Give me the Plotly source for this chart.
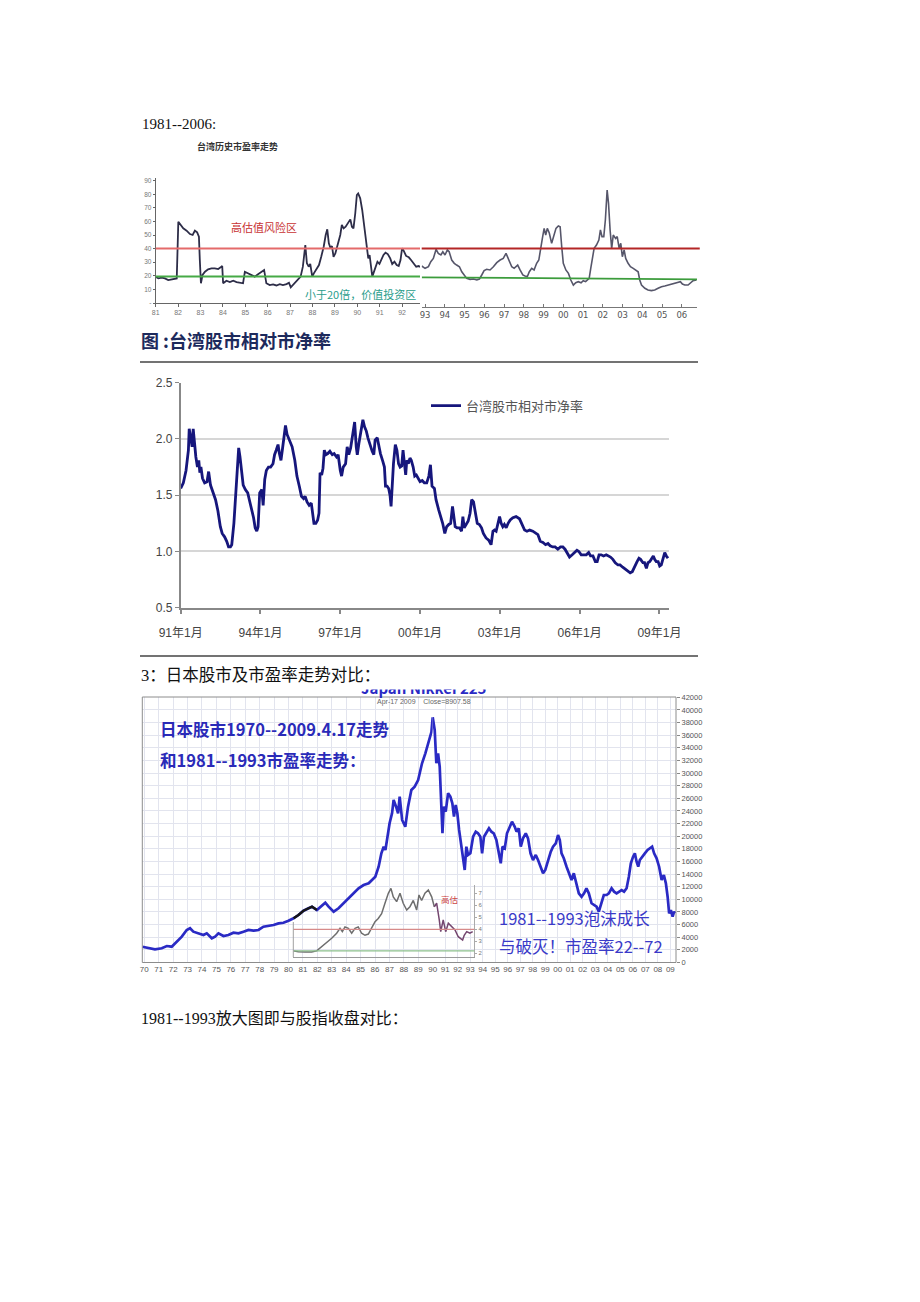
import plotly.graph_objects as go

W, H = 920, 1302


def fx(px):
    return px / W


def fy(py):
    return 1 - py / H


CJK = "Noto Sans CJK SC"
SANS = "Liberation Sans, Noto Sans CJK SC"
SERIF = "Liberation Serif, Noto Sans CJK SC"

# ---------------- Chart 1: Taiwan P/E 1981-2006 ----------------
tw_pe_early_year = [1980.97, 1981.12, 1981.27, 1981.41, 1981.56, 1981.71, 1981.86, 1981.94,
                    1982.01, 1982.11, 1982.23, 1982.38, 1982.53, 1982.65, 1982.75, 1982.85,
                    1982.93, 1982.97, 1983.02, 1983.09, 1983.20, 1983.34, 1983.49, 1983.64,
                    1983.79, 1983.90, 1983.97, 1984.01, 1984.16, 1984.31, 1984.46, 1984.61,
                    1984.76, 1984.90, 1984.98, 1985.12, 1985.28, 1985.42, 1985.57, 1985.72,
                    1985.84, 1985.94, 1986.09, 1986.24, 1986.39, 1986.54, 1986.68, 1986.84,
                    1986.95, 1987.03, 1987.13, 1987.28, 1987.40, 1987.47, 1987.57, 1987.68,
                    1987.75, 1987.83, 1987.90, 1987.99, 1988.06, 1988.17, 1988.29, 1988.39,
                    1988.50, 1988.59, 1988.66, 1988.73, 1988.81, 1988.87, 1988.94, 1989.02,
                    1989.09, 1989.16, 1989.24, 1989.31, 1989.39, 1989.48, 1989.58, 1989.69,
                    1989.76, 1989.83, 1989.91, 1989.98, 1990.04, 1990.13, 1990.22, 1990.29,
                    1990.37, 1990.44, 1990.49, 1990.55, 1990.60, 1990.67, 1990.72, 1990.81,
                    1990.90, 1990.99, 1991.08, 1991.17, 1991.26, 1991.36, 1991.47, 1991.56,
                    1991.66, 1991.76, 1991.85, 1991.93, 1992.00, 1992.07, 1992.18, 1992.30,
                    1992.40, 1992.52, 1992.63, 1992.74, 1992.80]
tw_pe_early = [19.4, 18.1, 18.6, 18.1, 16.9, 17.4, 17.6, 18.1,
               59.8, 57.4, 54.9, 53.2, 50.7, 50.0, 53.2, 52.0,
               48.8, 31.6, 14.5, 20.6, 23.0, 24.8, 25.5, 25.5,
               25.0, 26.2, 27.2, 14.5, 16.4, 15.4, 16.4, 15.4,
               14.9, 14.5, 23.0, 21.8, 20.6, 19.4, 21.1, 23.0,
               24.3, 14.5, 13.2, 13.7, 12.9, 13.9, 13.2, 13.9,
               14.9, 11.5, 13.2, 15.7, 18.1, 19.4, 26.7, 42.6,
               29.2, 26.7, 28.7, 19.4, 21.8, 24.3, 27.9, 34.0,
               41.4, 50.0, 54.2, 43.9, 40.2, 41.9, 34.0, 36.5,
               41.4, 43.9, 50.0, 57.4, 54.9, 56.1, 58.6, 61.5,
               56.1, 54.9, 66.0, 79.4, 80.6, 77.0, 68.4, 58.6,
               48.8, 36.5, 32.8, 35.3, 26.7, 19.4, 21.8, 26.7,
               30.4, 28.7, 32.8, 35.3, 37.0, 36.0, 32.8, 28.7,
               30.4, 27.9, 27.2, 31.6, 40.2, 38.5, 34.6, 33.6,
               31.6, 28.7, 26.7, 27.2, 26.5]

tw_pe_late_year = [1992.83, 1993.00, 1993.17, 1993.29, 1993.42, 1993.56, 1993.67, 1993.80,
                   1993.90, 1994.01, 1994.13, 1994.22, 1994.35, 1994.48, 1994.60, 1994.74,
                   1994.86, 1994.97, 1995.11, 1995.28, 1995.45, 1995.62, 1995.75, 1995.87,
                   1995.99, 1996.12, 1996.29, 1996.46, 1996.63, 1996.80, 1996.96, 1997.10,
                   1997.17, 1997.25, 1997.39, 1997.51, 1997.61, 1997.69, 1997.81, 1997.95,
                   1998.06, 1998.18, 1998.28, 1998.40, 1998.52, 1998.65, 1998.76, 1998.86,
                   1998.94, 1999.03, 1999.11, 1999.19, 1999.29, 1999.41, 1999.53, 1999.63,
                   1999.75, 1999.84, 1999.92, 2000.00, 2000.13, 2000.26, 2000.38, 2000.51,
                   2000.63, 2000.76, 2000.90, 2001.01, 2001.13, 2001.23, 2001.31, 2001.39,
                   2001.48, 2001.56, 2001.68, 2001.80, 2001.88, 2001.96, 2002.05, 2002.13,
                   2002.22, 2002.29, 2002.37, 2002.45, 2002.53, 2002.65, 2002.73, 2002.83,
                   2002.91, 2002.99, 2003.08, 2003.16, 2003.28, 2003.40, 2003.54, 2003.67,
                   2003.79, 2003.87, 2003.96, 2004.13, 2004.29, 2004.46, 2004.63, 2004.80,
                   2004.97, 2005.14, 2005.30, 2005.47, 2005.65, 2005.81, 2005.93, 2006.03,
                   2006.15, 2006.32, 2006.44, 2006.57, 2006.74]
tw_pe_late = [27.2, 25.5, 26.7, 30.4, 32.8, 39.5, 36.5, 35.3,
              37.7, 35.3, 39.0, 37.7, 31.6, 29.2, 27.9, 26.7,
              23.0, 20.6, 18.1, 17.4, 17.6, 16.9, 17.6, 20.6,
              23.8, 24.8, 24.3, 26.7, 29.7, 31.6, 32.8, 36.5,
              34.0, 31.6, 26.7, 25.5, 27.2, 27.9, 24.3, 20.6,
              19.9, 19.4, 23.0, 25.5, 24.3, 29.2, 31.6, 39.0,
              47.5, 54.9, 50.0, 54.9, 51.5, 43.9, 50.0, 54.9,
              56.6, 56.1, 41.4, 29.2, 24.3, 21.8, 16.9, 13.2,
              14.9, 15.7, 14.9, 16.4, 15.7, 16.9, 18.1, 25.5,
              34.0, 40.2, 42.6, 46.3, 53.7, 48.8, 48.8, 61.0,
              83.0, 73.3, 53.7, 40.2, 50.0, 47.5, 48.8, 40.2,
              43.9, 34.0, 39.0, 32.8, 29.2, 26.7, 25.5, 24.3,
              23.0, 16.9, 13.2, 10.8, 9.6, 9.1, 9.6, 10.8,
              12.0, 12.5, 13.2, 13.9, 14.5, 14.9, 15.7, 13.9,
              13.2, 13.2, 14.5, 16.4, 16.9]
pe_year_ticks_early = list(range(1981, 1993))
pe_year_ticks_late = list(range(1993, 2007))
pe_risk_level = 40
pe_value_level_early = 19.5
pe_value_level_late = [18.9, 17.4]

# ---------------- Chart 2: Taiwan relative P/B ----------------
tw_pb_year = [1991.00, 1991.10, 1991.20, 1991.29, 1991.32, 1991.38, 1991.43, 1991.47, 1991.51,
              1991.57, 1991.63, 1991.68, 1991.72, 1991.76, 1991.82, 1991.90, 1991.99, 1992.05,
              1992.12, 1992.21, 1992.31, 1992.40, 1992.49, 1992.56, 1992.65, 1992.73, 1992.80,
              1992.87, 1992.92, 1993.00, 1993.06, 1993.12, 1993.18, 1993.23, 1993.29, 1993.35,
              1993.43, 1993.52, 1993.60, 1993.68, 1993.74, 1993.80, 1993.86, 1993.91, 1993.97,
              1994.05, 1994.10, 1994.16, 1994.22, 1994.30, 1994.38, 1994.47, 1994.53, 1994.59,
              1994.66, 1994.71, 1994.77, 1994.82, 1994.88, 1994.94, 1995.00, 1995.09, 1995.19,
              1995.29, 1995.37, 1995.46, 1995.54, 1995.62, 1995.68, 1995.75, 1995.83, 1995.91,
              1995.96, 1996.01, 1996.08, 1996.15, 1996.20, 1996.24, 1996.30, 1996.35, 1996.40,
              1996.46, 1996.53, 1996.61, 1996.70, 1996.77, 1996.86, 1996.92, 1997.00, 1997.05,
              1997.11, 1997.20, 1997.26, 1997.32, 1997.39, 1997.48, 1997.54, 1997.60, 1997.64,
              1997.70, 1997.79, 1997.85, 1997.91, 1997.98, 1998.04, 1998.13, 1998.20, 1998.26,
              1998.31, 1998.39, 1998.43, 1998.51, 1998.60, 1998.66, 1998.70, 1998.76, 1998.82,
              1998.87, 1998.91, 1998.96, 1999.00, 1999.07, 1999.13, 1999.19, 1999.25, 1999.31,
              1999.36, 1999.40, 1999.46, 1999.50, 1999.56, 1999.62, 1999.67, 1999.74, 1999.80,
              1999.86, 1999.92, 2000.00, 2000.08, 2000.16, 2000.25, 2000.33, 2000.39, 2000.45,
              2000.54, 2000.60, 2000.70, 2000.79, 2000.85, 2000.93, 2001.00, 2001.08, 2001.15,
              2001.22, 2001.27, 2001.32, 2001.39, 2001.48, 2001.56, 2001.61, 2001.66, 2001.73,
              2001.81, 2001.88, 2001.94, 2002.01, 2002.07, 2002.15, 2002.23, 2002.31, 2002.38,
              2002.48, 2002.58, 2002.67, 2002.74, 2002.80, 2002.86, 2002.92, 2002.99, 2003.05,
              2003.11, 2003.17, 2003.24, 2003.31, 2003.39, 2003.49, 2003.61, 2003.74, 2003.83,
              2003.93, 2004.02, 2004.12, 2004.24, 2004.34, 2004.43, 2004.52, 2004.62, 2004.72,
              2004.81, 2004.89, 2004.99, 2005.08, 2005.18, 2005.28, 2005.37, 2005.45, 2005.52,
              2005.62, 2005.72, 2005.81, 2005.90, 2005.97, 2006.06, 2006.15, 2006.25, 2006.34,
              2006.41, 2006.50, 2006.59, 2006.66, 2006.73, 2006.81, 2006.90, 2007.00, 2007.09,
              2007.16, 2007.25, 2007.34, 2007.44, 2007.52, 2007.62, 2007.73, 2007.82, 2007.90,
              2007.98, 2008.07, 2008.16, 2008.23, 2008.29, 2008.38, 2008.44, 2008.51, 2008.57,
              2008.64, 2008.70, 2008.77, 2008.82, 2008.88, 2008.95, 2009.01, 2009.07, 2009.13,
              2009.20, 2009.26, 2009.32]
tw_pb = [1.56, 1.61, 1.72, 1.90, 2.09, 1.99, 1.93, 2.09, 1.96,
         1.84, 1.75, 1.81, 1.70, 1.75, 1.65, 1.61, 1.62, 1.71,
         1.59, 1.53, 1.46, 1.36, 1.22, 1.16, 1.13, 1.09, 1.04,
         1.04, 1.06, 1.25, 1.46, 1.70, 1.92, 1.84, 1.70, 1.59,
         1.55, 1.52, 1.44, 1.37, 1.30, 1.21, 1.18, 1.22, 1.52,
         1.55, 1.41, 1.64, 1.72, 1.75, 1.75, 1.78, 1.86, 1.90,
         1.95, 1.87, 1.81, 1.90, 1.99, 2.12, 2.04, 1.98, 1.93,
         1.81, 1.67, 1.58, 1.49, 1.47, 1.49, 1.44, 1.41, 1.43,
         1.34, 1.25, 1.25, 1.28, 1.34, 1.70, 1.68, 1.74, 1.90,
         1.86, 1.87, 1.89, 1.86, 1.87, 1.84, 1.86, 1.72, 1.67,
         1.75, 1.78, 1.93, 1.86, 1.92, 2.05, 2.15, 1.93, 1.86,
         1.96, 2.07, 2.17, 2.11, 2.07, 2.01, 1.93, 1.89, 1.86,
         1.99, 2.01, 1.96, 1.87, 1.80, 1.75, 1.58, 1.58, 1.56,
         1.50, 1.40, 1.67, 1.78, 1.95, 1.90, 1.78, 1.75, 1.76,
         1.90, 1.81, 1.68, 1.81, 1.78, 1.83, 1.81, 1.75, 1.67,
         1.68, 1.65, 1.62, 1.63, 1.61, 1.61, 1.67, 1.77, 1.58,
         1.56, 1.46, 1.37, 1.31, 1.25, 1.16, 1.22, 1.24, 1.25,
         1.40, 1.31, 1.22, 1.21, 1.21, 1.18, 1.31, 1.21, 1.24,
         1.27, 1.34, 1.46, 1.44, 1.37, 1.25, 1.24, 1.21, 1.16,
         1.12, 1.10, 1.06, 1.18, 1.19, 1.18, 1.24, 1.31, 1.25,
         1.22, 1.24, 1.21, 1.25, 1.28, 1.30, 1.31, 1.29, 1.24,
         1.19, 1.18, 1.19, 1.18, 1.16, 1.15, 1.09, 1.08, 1.06,
         1.07, 1.05, 1.04, 1.04, 1.02, 1.04, 1.04, 1.02, 0.99,
         0.95, 0.97, 0.99, 1.01, 1.00, 0.97, 0.97, 0.97, 0.99,
         0.96, 0.96, 0.91, 0.91, 0.97, 0.97, 0.96, 0.97, 0.96,
         0.95, 0.93, 0.90, 0.88, 0.88, 0.86, 0.84, 0.82, 0.81,
         0.82, 0.87, 0.91, 0.94, 0.93, 0.90, 0.90, 0.85, 0.90,
         0.91, 0.93, 0.96, 0.93, 0.91, 0.91, 0.87, 0.88, 0.94,
         0.99, 0.96, 0.94]
pb_tick_years = [1991, 1994, 1997, 2000, 2003, 2006, 2009]
pb_tick_labels = ["91年1月", "94年1月", "97年1月", "00年1月", "03年1月", "06年1月", "09年1月"]
pb_y_ticks = [0.5, 1.0, 1.5, 2.0, 2.5]
pb_series_name = "台湾股市相对市净率"

# ---------------- Chart 3: Nikkei 225 1970-2009 ----------------
nikkei_year = [1969.86, 1970.28, 1970.74, 1971.21, 1971.56, 1971.90, 1972.25, 1972.60, 1972.94,
               1973.17, 1973.40, 1973.75, 1974.10, 1974.33, 1974.68, 1974.91, 1975.14, 1975.49,
               1975.83, 1976.18, 1976.53, 1976.88, 1977.22, 1977.57, 1977.92, 1978.26, 1978.61,
               1978.96, 1979.31, 1979.65, 1980.00, 1980.35, 1980.69, 1981.04, 1981.39, 1981.63,
               1981.97, 1982.32, 1982.55, 1982.78, 1983.13, 1983.47, 1983.82, 1984.17, 1984.51,
               1984.86, 1985.21, 1985.56, 1985.79, 1986.02, 1986.25, 1986.44, 1986.60, 1986.72,
               1986.83, 1987.01, 1987.18, 1987.29, 1987.46, 1987.60, 1987.71, 1987.88, 1988.10,
               1988.29, 1988.52, 1988.75, 1988.99, 1989.26, 1989.49, 1989.72, 1989.91, 1990.00,
               1990.16, 1990.29, 1990.43, 1990.56, 1990.70, 1990.78, 1990.88, 1991.04, 1991.23,
               1991.41, 1991.57, 1991.70, 1991.84, 1991.97, 1992.11, 1992.29, 1992.43, 1992.56,
               1992.69, 1992.83, 1993.01, 1993.23, 1993.44, 1993.62, 1993.81, 1993.95, 1994.10,
               1994.29, 1994.50, 1994.69, 1994.88, 1995.09, 1995.28, 1995.44, 1995.58, 1995.76,
               1995.94, 1996.16, 1996.34, 1996.56, 1996.70, 1996.88, 1997.04, 1997.22, 1997.44,
               1997.62, 1997.82, 1998.02, 1998.24, 1998.42, 1998.62, 1998.82, 1999.00, 1999.22,
               1999.44, 1999.62, 1999.84, 2000.02, 2000.16, 2000.30, 2000.48, 2000.70, 2000.88,
               2001.10, 2001.28, 2001.50, 2001.68, 2001.90, 2002.10, 2002.29, 2002.48, 2002.70,
               2002.88, 2003.10, 2003.28, 2003.50, 2003.68, 2003.90, 2004.08, 2004.30, 2004.50,
               2004.70, 2004.90, 2005.10, 2005.30, 2005.50, 2005.68, 2005.84, 2006.02, 2006.16,
               2006.30, 2006.43, 2006.56, 2006.74, 2006.96, 2007.18, 2007.36, 2007.54, 2007.70,
               2007.90, 2008.10, 2008.30, 2008.48, 2008.64, 2008.78, 2008.90, 2009.04, 2009.18,
               2009.30, 2009.38]
nikkei_close = [2500, 2250, 2090, 2250, 2610, 2500, 3300, 4090, 5150,
                5420, 4880, 4620, 4350, 4620, 3830, 4090, 4620, 4200,
                4350, 4720, 4620, 4880, 5150, 5050, 5150, 5670, 5780,
                5940, 6200, 6300, 6620, 7000, 7520, 8200, 8580, 8840,
                8310, 9100, 9470, 8840, 8050, 8580, 9380, 10170, 10960,
                11750, 12270, 12540, 13070, 13590, 15170, 17290, 18340, 17820,
                19400, 22050, 23630, 25740, 24680, 23630, 26260, 22570, 21500,
                24680, 27320, 27840, 28900, 31550, 33130, 35240, 36500, 38840,
                36820, 31550, 33130, 31010, 24680, 20460, 24680, 23890, 26800,
                26260, 25210, 23100, 24950, 23630, 20990, 18340, 16230, 14650,
                18340, 17030, 17290, 19920, 20720, 20460, 19920, 17290, 19920,
                20460, 21250, 20720, 20460, 19400, 17290, 15710, 18340, 18080,
                20460, 21500, 22300, 21500, 20720, 21250, 18340, 19660, 20460,
                19660, 17290, 16230, 17030, 16230, 15170, 14130, 14650, 16230,
                17550, 18340, 18880, 20190, 19400, 17290, 16500, 15170, 14130,
                13070, 14130, 12540, 10960, 10420, 10960, 11750, 10960, 9380,
                9100, 8840, 8050, 9380, 10690, 10690, 10960, 11750, 11220,
                10960, 11220, 11480, 11220, 11750, 13590, 15710, 16760, 17290,
                15970, 15170, 16230, 16760, 17290, 17820, 18080, 18340, 17290,
                16500, 15170, 13070, 13860, 12540, 10420, 7790, 8310, 7250,
                8050, 7790]
nikkei_black_span = [1980.3, 1982.0]
nikkei_ticks_early = list(range(1970, 1990))
nikkei_ticks_late = list(range(1990, 2010))
nikkei_y_ticks = list(range(0, 42001, 2000))

# Japan P/E inset 1981-1993
jp_pe_year = [1981.00, 1981.34, 1981.80, 1982.26, 1982.60, 1982.94, 1983.29, 1983.63, 1983.97,
              1984.20, 1984.36, 1984.54, 1984.77, 1985.00, 1985.23, 1985.45, 1985.68, 1985.91,
              1986.14, 1986.41, 1986.60, 1986.82, 1987.05, 1987.28, 1987.51, 1987.69, 1987.85,
              1988.08, 1988.31, 1988.53, 1988.77, 1988.99, 1989.22, 1989.45, 1989.61, 1989.79,
              1990.02, 1990.25, 1990.48, 1990.66, 1990.82, 1991.00, 1991.10, 1991.27, 1991.44,
              1991.62, 1991.85, 1992.08, 1992.30, 1992.60, 1992.71, 1992.88, 1993.10, 1993.29]
jp_pe = [22.0, 21.3, 21.0, 21.0, 22.0, 25.5, 28.3, 32.5, 36.7,
         40.8, 38.0, 42.0, 40.8, 36.7, 40.8, 42.0, 36.7, 35.0,
         36.0, 42.0, 46.3, 49.0, 53.0, 61.7, 70.0, 74.0, 67.0,
         63.0, 70.0, 61.7, 56.0, 58.8, 64.0, 56.0, 68.6, 64.0,
         70.0, 72.7, 67.0, 58.8, 61.7, 47.8, 38.0, 47.8, 38.0,
         45.0, 42.0, 39.4, 33.8, 31.0, 35.0, 38.0, 36.7, 38.0]
jp_pe_tail_start = 1990.6
jp_pe_high = 40
jp_pe_low = 22
jp_pe_ticks = [20, 30, 40, 50, 60, 70]
jp_pe_ticktext = ["2", "3", "4", "5", "6", "7"]

# ---------------- build figure ----------------
fig = go.Figure()

fig.add_trace(go.Scatter(x=tw_pe_early_year, y=tw_pe_early, mode="lines", xaxis="x", yaxis="y",
                         line=dict(color="#2d2d48", width=1.8), showlegend=False))
fig.add_trace(go.Scatter(x=tw_pe_late_year, y=tw_pe_late, mode="lines", xaxis="x2", yaxis="y2",
                         line=dict(color="#56566a", width=1.6), showlegend=False))

fig.add_trace(go.Scatter(x=tw_pb_year, y=tw_pb, mode="lines", xaxis="x3", yaxis="y3",
                         name=pb_series_name, line=dict(color="#16167c", width=2.8),
                         showlegend=True))

jp_a = [(a, b) for a, b in zip(jp_pe_year, jp_pe) if a <= jp_pe_tail_start + 0.1]
jp_b = [(a, b) for a, b in zip(jp_pe_year, jp_pe) if a >= jp_pe_tail_start]
fig.add_trace(go.Scatter(x=[p[0] for p in jp_a], y=[p[1] for p in jp_a], mode="lines",
                         xaxis="x6", yaxis="y6", line=dict(color="#6e6e6e", width=1.5),
                         showlegend=False))
fig.add_trace(go.Scatter(x=[p[0] for p in jp_b], y=[p[1] for p in jp_b], mode="lines",
                         xaxis="x6", yaxis="y6", line=dict(color="#74466f", width=1.5),
                         showlegend=False))

nk_e = [(a, b) for a, b in zip(nikkei_year, nikkei_close) if a <= 1990.0]
nk_l = [(a, b) for a, b in zip(nikkei_year, nikkei_close) if a >= 1990.0]
nk_b = [(a, b) for a, b in zip(nikkei_year, nikkei_close)
        if nikkei_black_span[0] <= a <= nikkei_black_span[1]]
fig.add_trace(go.Scatter(x=[p[0] for p in nk_e], y=[p[1] for p in nk_e], mode="lines",
                         xaxis="x4", yaxis="y4", line=dict(color="#2a2ac4", width=2.7),
                         showlegend=False))
fig.add_trace(go.Scatter(x=[p[0] for p in nk_b], y=[p[1] for p in nk_b], mode="lines",
                         xaxis="x4", yaxis="y4", line=dict(color="#151515", width=2.4),
                         showlegend=False))
fig.add_trace(go.Scatter(x=[p[0] for p in nk_l], y=[p[1] for p in nk_l], mode="lines",
                         xaxis="x5", yaxis="y5", line=dict(color="#2a2ac4", width=2.7),
                         showlegend=False))

small_grey = dict(size=7, color="#777", family=SANS)
NOAM = dict(automargin=False)

layout = dict(
    template="none",
    width=W, height=H, autosize=False,
    margin=dict(l=0, r=0, t=0, b=0, pad=0, autoexpand=False),
    paper_bgcolor="white", plot_bgcolor="rgba(0,0,0,0)",
    showlegend=True,
    legend=dict(x=fx(426), y=fy(405.7), xanchor="left", yanchor="middle",
                bgcolor="rgba(0,0,0,0)", borderwidth=0,
                font=dict(size=13, color="#555", family=CJK)),
    # chart 1 left
    xaxis=dict(domain=[fx(155.7), fx(420)], range=[1981, 1992.8], anchor="y",
               tickvals=pe_year_ticks_early, ticktext=[str(v)[2:] for v in pe_year_ticks_early],
               showline=True, linecolor="#666", ticks="outside", ticklen=3, tickcolor="#666",
               tickfont=small_grey, showgrid=False, zeroline=False, **NOAM),
    yaxis=dict(domain=[fy(303), fy(177.9)], range=[0, 92], anchor="x",
               tickvals=list(range(0, 91, 10)), ticktext=["-"] + [str(v) for v in range(10, 91, 10)],
               showline=True, linecolor="#666", ticks="outside", ticklen=2, tickcolor="#666",
               tickfont=dict(size=6.5, color="#777", family=SANS), showgrid=False, zeroline=False,
               **NOAM),
    # chart 1 right
    xaxis2=dict(domain=[fx(421.7), fx(697)], range=[1992.83, 2006.77], anchor="y2",
                tickvals=pe_year_ticks_late, ticktext=[str(v)[2:] for v in pe_year_ticks_late],
                showline=True, linecolor="#777", ticks="inside", ticklen=3, tickcolor="#777",
                tickfont=dict(size=8.5, color="#555", family="DejaVu Sans"),
                showgrid=False, zeroline=False, **NOAM),
    yaxis2=dict(domain=[fy(307), fy(177.9)], range=[-2.94, 92], anchor="x2", visible=False, **NOAM),
    # chart 2
    xaxis3=dict(domain=[fx(180.7), fx(669)], range=[1991.0, 2009.36], anchor="y3",
                tickvals=pb_tick_years, ticktext=pb_tick_labels,
                showline=True, linecolor="#888", linewidth=1.5, ticks="outside", ticklen=5,
                tickcolor="#888", tickwidth=1.5, ticklabelstandoff=8,
                tickfont=dict(size=12, color="#444", family=SANS), showgrid=False, zeroline=False,
                **NOAM),
    yaxis3=dict(domain=[fy(607.7), fy(382.7)], range=[0.5, 2.5], anchor="x3",
                tickvals=pb_y_ticks, ticktext=["%.1f" % v for v in pb_y_ticks],
                showline=True, linecolor="#888", linewidth=1.5, ticks="outside", ticklen=4,
                tickcolor="#888", tickfont=dict(size=12, color="#444", family=SANS),
                showgrid=True, gridcolor="#d6d6d6", gridwidth=1.5, zeroline=False, **NOAM),
    # chart 3 early segment
    xaxis4=dict(domain=[fx(142.3), fx(432.7)], range=[1969.86, 1990.0], anchor="y4",
                tickvals=nikkei_ticks_early, ticktext=[str(v)[2:] for v in nikkei_ticks_early],
                ticks="", tickfont=dict(size=8, color="#555", family=SANS),
                showgrid=True, gridcolor="#e2e4ee", gridwidth=1, showline=False, zeroline=False,
                **NOAM),
    yaxis4=dict(domain=[fy(962.5), fy(697.3)], range=[0, 42000], anchor="x4",
                tickvals=nikkei_y_ticks, showticklabels=False, ticks="",
                showgrid=True, gridcolor="#e2e4ee", gridwidth=1, showline=False, zeroline=False,
                **NOAM),
    # chart 3 late segment
    xaxis5=dict(domain=[fx(432.7), fx(676)], range=[1990.0, 2009.45], anchor="y5",
                tickvals=nikkei_ticks_late, ticktext=[str(v)[2:] for v in nikkei_ticks_late],
                ticks="", tickfont=dict(size=8, color="#555", family=SANS),
                showgrid=True, gridcolor="#e2e4ee", gridwidth=1, showline=False, zeroline=False,
                **NOAM),
    yaxis5=dict(domain=[fy(962.5), fy(697.3)], range=[0, 42000], anchor="x5", side="right",
                tickvals=nikkei_y_ticks, ticktext=[str(v) for v in nikkei_y_ticks],
                ticks="outside", ticklen=3, tickcolor="#888",
                tickfont=dict(size=7.5, color="#555", family=SANS),
                showgrid=True, gridcolor="#e2e4ee", gridwidth=1, showline=False, zeroline=False,
                **NOAM),
    # inset
    xaxis6=dict(domain=[fx(293.3), fx(474.3)], range=[1981, 1993.4], anchor="y6",
                showline=True, linecolor="#9a9a9a", showticklabels=False, ticks="",
                showgrid=False, zeroline=False, **NOAM),
    yaxis6=dict(domain=[fy(957), fy(885)], range=[16.9, 76.9], anchor="x6", side="right",
                tickvals=jp_pe_ticks, ticktext=jp_pe_ticktext,
                showline=True, linecolor="#aaa", ticks="outside", ticklen=2, tickcolor="#aaa",
                tickfont=dict(size=6, color="#777", family=SANS), showgrid=False, zeroline=False,
                **NOAM),
)
fig.update_layout(**layout)

shapes = [
    # chart 1 reference lines
    dict(type="line", xref="x domain", yref="y", x0=0, x1=1, y0=pe_risk_level, y1=pe_risk_level,
         line=dict(color="#e46a6a", width=2)),
    dict(type="line", xref="x2 domain", yref="y2", x0=0, x1=1.01, y0=pe_risk_level, y1=pe_risk_level,
         line=dict(color="#b42626", width=2)),
    dict(type="line", xref="x domain", yref="y", x0=0, x1=1, y0=pe_value_level_early,
         y1=pe_value_level_early, line=dict(color="#46aa46", width=2)),
    dict(type="line", xref="x2", yref="y2", x0=1992.83, x1=2006.77, y0=pe_value_level_late[0],
         y1=pe_value_level_late[1], line=dict(color="#3c9c3c", width=1.8)),
    # chart 2 rules
    dict(type="line", xref="paper", yref="paper", x0=fx(140), x1=fx(698), y0=fy(362), y1=fy(362),
         line=dict(color="#444", width=1.3)),
    dict(type="line", xref="paper", yref="paper", x0=fx(140), x1=fx(698), y0=fy(656), y1=fy(656),
         line=dict(color="#444", width=1.3)),
    # chart 3 frame
    dict(type="rect", xref="paper", yref="paper", x0=fx(142.3), x1=fx(676), y0=fy(962.5), y1=fy(697),
         line=dict(color="#8c8c8c", width=1), fillcolor="rgba(0,0,0,0)"),
    # inset reference lines
    dict(type="line", xref="x6 domain", yref="y6", x0=0, x1=1, y0=jp_pe_high, y1=jp_pe_high,
         line=dict(color="#d68a8a", width=1.2)),
    dict(type="line", xref="x6 domain", yref="y6", x0=0, x1=1, y0=jp_pe_low, y1=jp_pe_low,
         line=dict(color="#8cc08c", width=1.2)),
    dict(type="line", xref="paper", yref="paper", x0=fx(293.3), x1=fx(293.3), y0=fy(957), y1=fy(922),
         line=dict(color="#a0a0a0", width=1)),
]
fig.update_layout(shapes=shapes)


def ann(text, x, y, size, color, family=CJK, xanchor="left", bold=False, **kw):
    t = "<b>%s</b>" % text if bold else text
    d = dict(text=t, x=fx(x), y=fy(y), xref="paper", yref="paper", xanchor=xanchor,
             yanchor="middle", showarrow=False, font=dict(size=size, color=color, family=family))
    d.update(kw)
    return d


annotations = [
    ann("1981--2006:", 140, 124, 15, "#111", family=SERIF),
    ann("台湾历史市盈率走势", 237, 146, 9, "#333", xanchor="center", bold=True),
    ann("高估值风险区", 263.5, 226.7, 11, "#c83232", xanchor="center"),
    ann("小于20倍，价值投资区", 360, 294, 11, "#2a9d8c", xanchor="center"),
    ann("图 :台湾股市相对市净率", 139, 340, 18, "#1d2a5c", bold=True),
    # Nikkei chart header (partially hidden title)
    ann("<b>Japan Nikkei 225</b>", 424, 687, 15, "#2a2ac4", xanchor="center"),
    dict(text=" ", x=fx(424), y=fy(679), xref="paper", yref="paper", xanchor="center",
         yanchor="middle", showarrow=False, width=150, height=20, bgcolor="white", borderpad=0),
    ann("Apr-17 2009    Close=8907.58", 424, 702, 7, "#666", family=SANS, xanchor="center"),
    ann("日本股市1970--2009.4.17走势", 158, 729.3, 16.5, "#2a2ab8", bold=True),
    ann("和1981--1993市盈率走势：", 158, 760, 16.5, "#2a2ab8", bold=True),
    ann("1981--1993泡沫成长", 497, 918, 16.5, "#3a3ac8"),
    ann("与破灭！市盈率22--72", 497, 946, 16.5, "#3a3ac8"),
    ann("高估", 450, 899, 8.5, "#cc4444", xanchor="center"),
    ann("3：日本股市及市盈率走势对比：", 139, 675, 16.5, "#111", family=SERIF),
    ann("1981--1993放大图即与股指收盘对比：", 139, 1018, 16, "#111", family=SERIF),
]
fig.update_layout(annotations=annotations)

fig.write_html("out.html")
